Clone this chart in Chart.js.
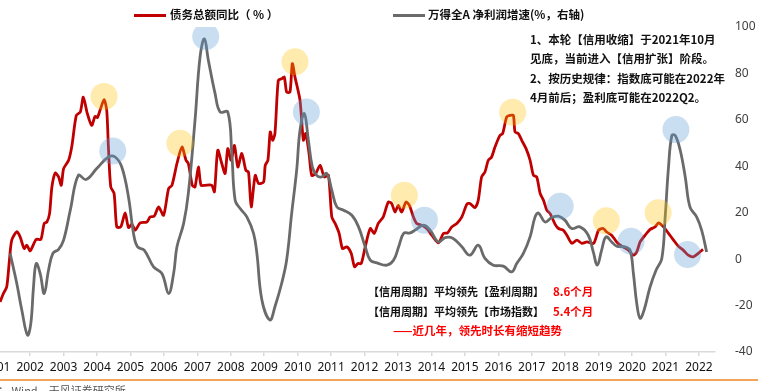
<!DOCTYPE html>
<html>
<head>
<meta charset="utf-8">
<script src="https://cdn.jsdelivr.net/npm/chart.js@4.4.0/dist/chart.umd.min.js"></script>
<style>
  html, body { margin: 0; padding: 0; background: #fff; }
  body { width: 758px; height: 391px; overflow: hidden; position: relative;
         font-family: "Noto Sans CJK SC", "Noto Sans", sans-serif; }
  .plot { position: absolute; left: -40px; top: 0; width: 798px; height: 380px; }
  .txt { position: absolute; white-space: nowrap; font-weight: 700; font-size: 11.5px; color: #111; line-height: 19px; }
  .red { color: #ff0000; }
  .key { position: absolute; height: 3px; width: 32px; top: 14px; }
  .rule { position: absolute; left: 0; top: 379px; width: 758px; height: 1.5px; background: #f2a45a; }
  .src { position: absolute; left: -46px; top: 382px; font-size: 11px; color: #555; white-space: nowrap; }
</style>
</head>
<body>
<div class="plot"><canvas id="myChart"></canvas></div>

<div class="key" style="left:134px;background:#c00000"></div>
<div class="txt" style="left:170px;top:5px">债务总额同比（ % ）</div>
<div class="key" style="left:393px;background:#6a6a6a"></div>
<div class="txt" style="left:428px;top:5px">万得全A 净利润增速(%，右轴)</div>

<div class="txt" style="left:530px;top:30px;line-height:19.3px">1、本轮【信用收缩】于2021年10月<br>见底，当前进入【信用扩张】阶段。<br>2、按历史规律：指数底可能在2022年<br>4月前后；盈利底可能在2022Q2。</div>

<div class="txt" style="left:368px;top:282px;font-size:11px">【信用周期】平均领先【盈利周期】</div>
<div class="txt red" style="left:553px;top:282px">8.6个月</div>
<div class="txt" style="left:368px;top:301.5px;font-size:11px">【信用周期】平均领先【市场指数】</div>
<div class="txt red" style="left:553px;top:301.5px">5.4个月</div>
<div class="txt red" style="left:393px;top:321px">——近几年，领先时长有缩短趋势</div>

<div class="rule"></div>
<div class="src">资料来源： Wind，天风证券研究所</div>

<script>
const tickYears = [2001, 2002, 2003, 2004, 2005, 2006, 2007, 2008, 2009, 2010, 2011,
                   2012, 2013, 2014, 2015, 2016, 2017, 2018, 2019, 2020, 2021, 2022];
const rightTicks = [-40, -20, 0, 20, 40, 60, 80, 100];

// 债务总额同比 (year, %)
const debtGrowth = [[2001.10,-18.4],[2001.20,-14.8],[2001.30,-11.9],[2001.38,-0.4],[2001.45,8.2],[2001.60,11.8],[2001.70,9.6],[2001.82,4.6],[2001.90,6.0],[2002.00,3.6],[2002.18,8.5],[2002.32,8.5],[2002.42,15.4],[2002.50,16.0],[2002.58,19.6],[2002.65,31.1],[2002.75,37.1],[2002.85,35.4],[2002.93,31.8],[2003.00,39.0],[2003.15,42.6],[2003.25,49.0],[2003.38,61.9],[2003.50,63.4],[2003.59,69.8],[2003.71,62.7],[2003.84,57.6],[2003.94,61.5],[2004.01,61.0],[2004.09,64.1],[2004.21,68.7],[2004.29,64.1],[2004.34,48.3],[2004.41,31.1],[2004.51,28.3],[2004.59,13.9],[2004.71,13.9],[2004.84,19.9],[2004.94,13.6],[2005.04,15.1],[2005.14,12.5],[2005.29,15.6],[2005.49,16.0],[2005.59,18.2],[2005.71,18.5],[2005.84,22.5],[2005.99,18.9],[2006.14,30.4],[2006.24,31.8],[2006.39,41.2],[2006.54,48.3],[2006.66,42.6],[2006.73,41.2],[2006.85,31.8],[2006.93,31.1],[2007.03,39.7],[2007.11,31.8],[2007.23,31.8],[2007.43,31.8],[2007.51,29.0],[2007.61,46.9],[2007.73,41.2],[2007.83,36.9],[2007.91,47.6],[2008.01,42.6],[2008.11,49.0],[2008.21,39.7],[2008.33,45.5],[2008.45,38.3],[2008.53,37.5],[2008.61,22.5],[2008.73,36.1],[2008.83,32.6],[2008.98,33.2],[2009.03,40.4],[2009.11,42.6],[2009.18,54.8],[2009.25,51.2],[2009.32,54.1],[2009.42,77.0],[2009.52,77.7],[2009.60,78.4],[2009.67,72.0],[2009.77,72.0],[2009.84,84.2],[2009.92,78.4],[2010.07,68.4],[2010.17,51.2],[2010.24,54.1],[2010.34,45.5],[2010.42,36.1],[2010.54,36.9],[2010.67,40.4],[2010.80,35.4],[2010.92,36.1],[2011.02,18.2],[2011.12,15.4],[2011.24,11.1],[2011.34,4.6],[2011.47,5.3],[2011.60,2.5],[2011.70,-3.3],[2011.80,-1.9],[2011.90,-1.9],[2012.02,5.3],[2012.17,13.2],[2012.29,11.1],[2012.41,15.4],[2012.56,18.2],[2012.71,24.6],[2012.81,24.0],[2012.91,20.3],[2013.01,23.2],[2013.11,20.3],[2013.24,24.6],[2013.34,23.2],[2013.46,18.2],[2013.56,15.4],[2013.71,14.6],[2013.86,13.2],[2014.01,10.3],[2014.21,7.0],[2014.36,11.1],[2014.48,11.3],[2014.61,13.9],[2014.76,15.4],[2014.91,18.2],[2015.06,23.7],[2015.15,24.0],[2015.30,22.2],[2015.40,25.4],[2015.50,35.4],[2015.60,37.5],[2015.70,42.6],[2015.80,44.0],[2015.90,48.3],[2016.05,53.3],[2016.13,54.1],[2016.25,61.2],[2016.35,61.9],[2016.45,61.9],[2016.50,54.8],[2016.60,54.1],[2016.70,51.2],[2016.83,47.6],[2016.95,42.6],[2017.05,36.1],[2017.15,35.4],[2017.25,28.3],[2017.35,25.4],[2017.45,21.1],[2017.55,19.6],[2017.70,15.0],[2017.80,13.2],[2017.94,12.5],[2018.05,10.3],[2018.20,6.8],[2018.35,8.2],[2018.50,6.8],[2018.65,7.4],[2018.85,6.8],[2019.00,12.5],[2019.14,13.2],[2019.24,11.7],[2019.39,10.3],[2019.54,7.4],[2019.69,5.6],[2019.89,3.9],[2020.04,1.7],[2020.14,3.1],[2020.24,7.4],[2020.39,10.3],[2020.54,12.8],[2020.69,13.9],[2020.79,15.6],[2020.94,13.9],[2021.09,11.1],[2021.24,8.2],[2021.38,5.6],[2021.53,3.9],[2021.68,1.7],[2021.83,1.0],[2021.98,2.5],[2022.12,4.2]];

// 万得全A 净利润增速 (year, %)
const profitGrowth = [[2001.40,2.5],[2001.60,-10.5],[2001.75,-21.9],[2001.92,-32.7],[2002.02,-27.7],[2002.10,-11.9],[2002.18,-1.9],[2002.30,-6.2],[2002.42,-14.8],[2002.55,-4.7],[2002.68,2.5],[2002.85,4.2],[2003.00,8.2],[2003.20,21.1],[2003.44,36.1],[2003.67,34.3],[2003.99,39.0],[2004.34,44.0],[2004.54,44.0],[2004.74,39.7],[2004.94,26.8],[2005.09,11.1],[2005.21,5.3],[2005.41,3.9],[2005.69,-3.3],[2005.94,-6.2],[2006.14,-14.8],[2006.29,-6.2],[2006.39,5.3],[2006.59,15.4],[2006.73,28.3],[2006.93,59.8],[2007.08,87.0],[2007.21,94.9],[2007.33,85.6],[2007.53,71.3],[2007.68,63.4],[2007.91,63.4],[2008.03,45.5],[2008.13,25.4],[2008.28,21.8],[2008.48,18.2],[2008.68,11.1],[2008.78,2.5],[2008.93,-17.6],[2009.17,-26.2],[2009.32,-20.5],[2009.52,-10.5],[2009.67,-0.4],[2009.82,19.6],[2009.97,38.3],[2010.07,55.5],[2010.20,62.7],[2010.32,51.2],[2010.44,39.7],[2010.57,36.1],[2010.72,35.4],[2010.87,36.9],[2011.02,29.7],[2011.17,22.5],[2011.37,21.1],[2011.62,18.9],[2011.82,13.9],[2012.02,5.3],[2012.17,-0.4],[2012.37,-1.6],[2012.67,-2.6],[2012.87,-0.4],[2013.02,5.3],[2013.17,11.1],[2013.36,11.3],[2013.51,12.5],[2013.76,14.6],[2013.96,12.5],[2014.21,7.4],[2014.41,9.3],[2014.65,8.9],[2014.91,5.3],[2015.15,1.7],[2015.40,6.0],[2015.60,0.3],[2015.85,-2.6],[2016.15,-3.0],[2016.40,-5.5],[2016.55,-1.9],[2016.75,2.5],[2016.95,9.6],[2017.10,18.2],[2017.20,19.9],[2017.40,16.0],[2017.60,17.9],[2017.80,18.5],[2017.99,16.8],[2018.19,13.2],[2018.44,13.9],[2018.69,10.3],[2018.84,3.1],[2018.96,-2.6],[2019.09,3.9],[2019.22,9.6],[2019.39,7.4],[2019.54,5.6],[2019.79,5.3],[2019.94,3.9],[2020.04,-6.2],[2020.14,-19.1],[2020.24,-25.5],[2020.36,-21.9],[2020.54,-11.9],[2020.72,-4.7],[2020.89,0.3],[2020.99,18.2],[2021.09,39.7],[2021.19,53.3],[2021.29,53.3],[2021.44,46.9],[2021.59,35.4],[2021.73,22.5],[2021.93,18.2],[2022.08,12.5],[2022.23,3.1]];

// highlighted turning points
const creditPeaks = [[2004.21,70.1],[2006.48,49.9],[2009.92,85.0],[2013.19,27.5],[2016.43,63.3],[2019.23,16.5],[2020.78,20.0]];
const profitPeaks = [[2004.47,46.6],[2007.25,95.9],[2010.26,63.4],[2013.79,16.8],[2017.85,22.8],[2019.97,7.7],[2021.31,55.8],[2021.66,2.0]];

const toXY = arr => arr.map(p => ({ x: p[0], y: p[1] }));

const ctx = document.getElementById('myChart').getContext('2d');
new Chart(ctx, {
    type: 'line',
    data: {
        datasets: [{
            type: 'scatter',
            data: toXY(creditPeaks),
            yAxisID: 'y',
            pointRadius: 13.5,
            pointBorderWidth: 0,
            pointBackgroundColor: 'rgba(255, 192, 0, 0.32)',
            order: 0
        }, {
            type: 'scatter',
            data: toXY(profitPeaks),
            yAxisID: 'y',
            pointRadius: 13.5,
            pointBorderWidth: 0,
            pointBackgroundColor: 'rgba(91, 155, 213, 0.33)',
            order: 0
        }, {
            label: '债务总额同比（%）',
            data: toXY(debtGrowth),
            yAxisID: 'yLeft',
            borderColor: '#c00000',
            borderWidth: 2.8,
            pointRadius: 0,
            tension: 0.25,
            order: 2
        }, {
            label: '万得全A 净利润增速(%，右轴)',
            data: toXY(profitGrowth),
            yAxisID: 'y',
            borderColor: '#6a6a6a',
            borderWidth: 2.8,
            pointRadius: 0,
            tension: 0.4,
            order: 1
        }]
    },
    options: {
        responsive: true,
        maintainAspectRatio: false,
        animation: false,
        layout: { padding: { top: 27, left: 20, right: 0, bottom: 0 } },
        plugins: { legend: { display: false }, tooltip: { enabled: false } },
        scales: {
            x: {
                type: 'linear',
                min: 2000.5,
                max: 2022.48,
                afterBuildTicks: axis => { axis.ticks = tickYears.map(v => ({ value: v })); },
                afterFit: axis => { axis.height = 28; },
                grid: { drawOnChartArea: false, tickLength: 4, color: '#d9d9d9', lineWidth: 1.5 },
                border: { color: '#d9d9d9', width: 1.5 },
                ticks: {
                    padding: 4, color: '#111', autoSkip: false, maxRotation: 0,
                    font: { size: 12, family: 'Noto Sans' },
                    callback: v => String(v)
                }
            },
            yLeft: { display: false, min: -40, max: 100 },
            y: {
                position: 'right',
                min: -40,
                max: 100,
                afterBuildTicks: axis => { axis.ticks = rightTicks.map(v => ({ value: v })); },
                afterFit: axis => { axis.width = 43; },
                grid: { display: false },
                border: { display: false },
                ticks: { padding: 12, color: '#404040', font: { size: 12, family: 'Noto Sans' } }
            }
        }
    }
});
</script>
</body>
</html>
